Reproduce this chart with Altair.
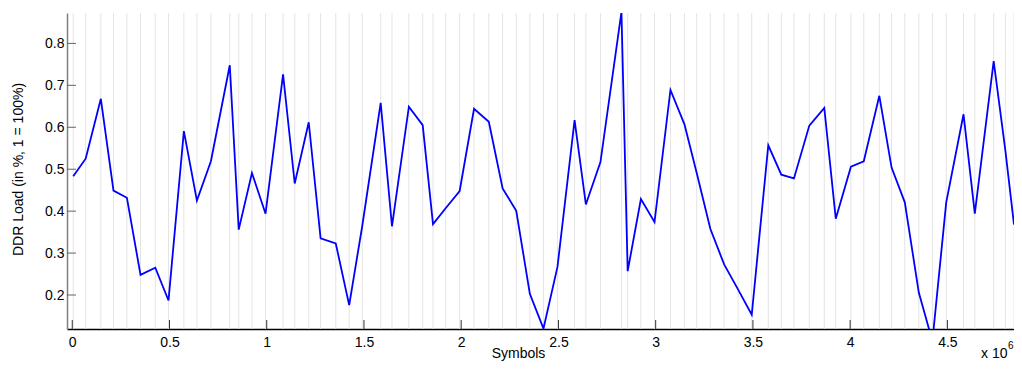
import altair as alt
import pandas as pd

# Data
symbols = [5000, 69000, 147000, 212000, 281000, 351000, 427000, 495000, 574000, 641000,
           713000, 810000, 856000, 924000, 994000, 1084000, 1144000, 1216000, 1277000, 1355000,
           1424000, 1491000, 1586000, 1644000, 1731000, 1802000, 1855000, 1920000, 1992000, 2066000,
           2142000, 2213000, 2283000, 2353000, 2423000, 2495000, 2583000, 2641000, 2716000, 2824000,
           2856000, 2924000, 2994000, 3076000, 3148000, 3211000, 3281000, 3352000, 3424000, 3494000,
           3579000, 3646000, 3711000, 3790000, 3867000, 3926000, 4004000, 4070000, 4150000, 4213000,
           4281000, 4353000, 4423000, 4494000, 4583000, 4641000, 4738000, 4798000, 4842500]
load = [0.483, 0.525, 0.668, 0.449, 0.432, 0.248, 0.265, 0.187, 0.591, 0.425,
        0.519, 0.748, 0.356, 0.491, 0.394, 0.726, 0.466, 0.612, 0.335, 0.323,
        0.176, 0.364, 0.658, 0.364, 0.649, 0.605, 0.369, 0.407, 0.448, 0.644,
        0.613, 0.454, 0.401, 0.203, 0.120, 0.267, 0.617, 0.416, 0.517, 0.875,
        0.257, 0.429, 0.374, 0.689, 0.607, 0.491, 0.358, 0.273, 0.213, 0.153,
        0.557, 0.487, 0.478, 0.604, 0.646, 0.382, 0.506, 0.519, 0.675, 0.504,
        0.421, 0.206, 0.090, 0.421, 0.631, 0.394, 0.758, 0.545, 0.368]
x_ticks = [0, 500000, 1000000, 1500000, 2000000, 2500000, 3000000, 3500000, 4000000, 4500000]
y_ticks = [0.2, 0.3, 0.4, 0.5, 0.6, 0.7, 0.8]
x_title = "Symbols"
y_title = "DDR Load (in %, 1 = 100%)"
exp_base = "x 10"
exp_power = "6"

df = pd.DataFrame({"symbols": symbols, "load": load})
xt = pd.DataFrame({"t": x_ticks})
yt = pd.DataFrame({"t": y_ticks})

W, H = 947, 316
FONT = "Liberation Sans"
xscale = alt.Scale(domain=[-27000, 4842500], nice=False, zero=False)
yscale = alt.Scale(domain=[0.119, 0.8725], nice=False, zero=False)

x_axis = alt.Axis(values=x_ticks, labelExpr="datum.value / 1000000",
                  ticks=False, grid=False, domainColor="#000000", domainWidth=1.3,
                  labelFont=FONT, labelFontSize=14, labelColor="#000000",
                  labelPadding=6, labelFlush=False,
                  title=x_title, titleFont=FONT, titleFontSize=14,
                  titleFontWeight="normal", titleColor="#000000",
                  titleX=451, titleY=28, titleAlign="center",
                  titleBaseline="alphabetic")
y_axis = alt.Axis(values=y_ticks, format=".1f", ticks=False, grid=False,
                  domainColor="#808080", domainWidth=1.5,
                  labelFont=FONT, labelFontSize=14, labelColor="#000000",
                  labelPadding=3,
                  title=y_title, titleFont=FONT, titleFontSize=14,
                  titleFontWeight="normal", titleColor="#000000",
                  titleAngle=270, titleX=-45, titleY=156,
                  titleAlign="center", titleBaseline="alphabetic")

grid = alt.Chart(df).mark_rule(color="#e4e4e4", strokeWidth=1).encode(
    x=alt.X("symbols:Q", scale=xscale, axis=x_axis)
)

line = alt.Chart(df).mark_line(color="#0000ff", strokeWidth=1.8, clip=True).encode(
    x=alt.X("symbols:Q", scale=xscale, axis=x_axis),
    y=alt.Y("load:Q", scale=yscale, axis=y_axis),
)

yticks = alt.Chart(yt).mark_rule(color="#666666", strokeWidth=1).encode(
    y=alt.Y("t:Q", scale=yscale, axis=y_axis),
    x=alt.value(0), x2=alt.value(9),
)
xticks = alt.Chart(xt).mark_rule(color="#333333", strokeWidth=1).encode(
    x=alt.X("t:Q", scale=xscale, axis=x_axis),
    y=alt.value(H - 9), y2=alt.value(H),
)

base_txt = alt.Chart(pd.DataFrame({"t": [exp_base]})).mark_text(
    align="left", baseline="alphabetic", font=FONT, fontSize=14, color="#000000"
).encode(text="t:N", x=alt.value(914), y=alt.value(345))
pow_txt = alt.Chart(pd.DataFrame({"t": [exp_power]})).mark_text(
    align="left", baseline="alphabetic", font=FONT, fontSize=10, color="#000000"
).encode(text="t:N", x=alt.value(941), y=alt.value(336))

chart = alt.layer(grid, line, yticks, xticks, base_txt, pow_txt).properties(
    width=W, height=H,
    autosize=alt.AutoSizeParams(type="none"),
    padding={"left": 59, "top": 5, "right": 0, "bottom": 32},
).configure_view(stroke=None)

chart.save("out.html", embed_options={"renderer": "svg", "actions": False})
